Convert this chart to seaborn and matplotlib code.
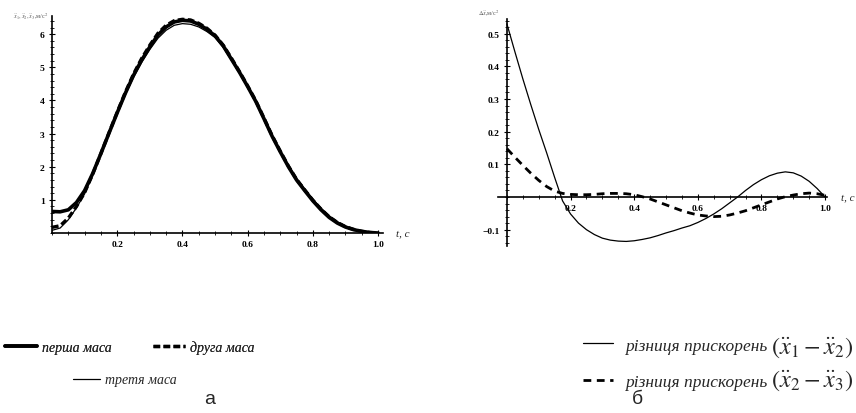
import numpy as np
import pandas as pd
import matplotlib
matplotlib.use("Agg")
import matplotlib.pyplot as plt
from matplotlib.ticker import MultipleLocator, FixedLocator
import seaborn as sns

# time grid, s
t = [0.0, 0.025, 0.05, 0.075, 0.1, 0.125, 0.15, 0.175, 0.2, 0.225,
     0.25, 0.275, 0.3, 0.325, 0.35, 0.375, 0.4, 0.425, 0.45, 0.475,
     0.5, 0.525, 0.55, 0.575, 0.6, 0.625, 0.65, 0.675, 0.7, 0.725,
     0.75, 0.775, 0.8, 0.825, 0.85, 0.875, 0.9, 0.925, 0.95, 0.975, 1.0]

# (a) accelerations of the three masses, m/s^2
mass1 = [0.65, 0.64, 0.7, 0.92, 1.28, 1.8, 2.4, 3.02, 3.63, 4.22,
         4.76, 5.22, 5.62, 5.98, 6.22, 6.37, 6.42, 6.4, 6.3, 6.15,
         5.95, 5.65, 5.25, 4.85, 4.42, 3.97, 3.45, 2.92, 2.45, 2.0,
         1.6, 1.28, 0.97, 0.7, 0.47, 0.3, 0.18, 0.1, 0.05, 0.015, 0.0]
mass2 = [0.17, 0.22, 0.45, 0.8, 1.22, 1.78, 2.4, 3.03, 3.65, 4.25,
         4.8, 5.27, 5.67, 6.03, 6.27, 6.41, 6.45, 6.43, 6.33, 6.18,
         5.97, 5.67, 5.28, 4.87, 4.44, 3.99, 3.47, 2.94, 2.47, 2.02,
         1.62, 1.3, 0.99, 0.72, 0.49, 0.32, 0.19, 0.11, 0.05, 0.015, 0.0]
mass3 = [0.08, 0.15, 0.4, 0.76, 1.18, 1.75, 2.37, 2.99, 3.6, 4.18,
         4.7, 5.15, 5.54, 5.88, 6.12, 6.27, 6.32, 6.3, 6.22, 6.08,
         5.9, 5.6, 5.22, 4.82, 4.4, 3.95, 3.44, 2.93, 2.47, 2.04,
         1.65, 1.33, 1.02, 0.75, 0.52, 0.34, 0.21, 0.12, 0.06, 0.02, 0.0]

# (b) acceleration differences, m/s^2
diff12 = [0.53, 0.445, 0.362, 0.283, 0.207, 0.135, 0.06, -0.012, -0.052, -0.08,
          -0.1, -0.115, -0.126, -0.132, -0.135, -0.136, -0.134, -0.13, -0.125, -0.118,
          -0.11, -0.103, -0.095, -0.088, -0.078, -0.066, -0.052, -0.036, -0.018, 0.0,
          0.02, 0.038, 0.053, 0.065, 0.073, 0.077, 0.074, 0.064, 0.048, 0.026, 0.0]
diff23 = [0.148, 0.122, 0.097, 0.073, 0.051, 0.032, 0.018, 0.011, 0.008, 0.007,
          0.007, 0.008, 0.01, 0.011, 0.011, 0.01, 0.007, 0.001, -0.006, -0.015,
          -0.024, -0.033, -0.042, -0.049, -0.055, -0.058, -0.06, -0.059, -0.055, -0.049,
          -0.042, -0.033, -0.024, -0.015, -0.006, 0.001, 0.006, 0.01, 0.012, 0.01, 0.005]

xticks_a = [0.2, 0.4, 0.6, 0.8, 1.0]
yticks_a = [1, 2, 3, 4, 5, 6]
xticks_b = [0.2, 0.4, 0.6, 0.8, 1.0]
yticks_b = [-0.1, 0.1, 0.2, 0.3, 0.4, 0.5]

labels_a = ['перша маса', 'друга маса', 'третя маса']
labels_b = ['різниця прискорень', 'різниця прискорень']
math_b = [r'$\left(\ddot{x}_1-\ddot{x}_2\right)$', r'$\left(\ddot{x}_2-\ddot{x}_3\right)$']

sns.set_style("white")
plt.rcParams['font.family'] = ['Liberation Serif', 'DejaVu Serif']
plt.rcParams['mathtext.fontset'] = 'stix'

fig = plt.figure(figsize=(8.56, 4.14), dpi=100)
ax1 = fig.add_axes([52/856, 1-234/414, 331/856, 217/414])
ax2 = fig.add_axes([498/856, 1-247/414, 329/856, 227/414])


def mathematica_axes(ax, xminor, yminor):
    # axes crossing at the origin, no box
    for s in ['top', 'right']:
        ax.spines[s].set_visible(False)
    ax.spines['left'].set_position(('data', 0))
    ax.spines['bottom'].set_position(('data', 0))
    for s in ['left', 'bottom']:
        ax.spines[s].set_linewidth(1.2)
        ax.spines[s].set_color('black')
    ax.xaxis.set_minor_locator(MultipleLocator(xminor))
    ax.yaxis.set_minor_locator(MultipleLocator(yminor))
    ax.tick_params(which='both', bottom=True, left=True, top=False, right=False)
    ax.tick_params(which='major', direction='inout', length=4.5, width=0.8,
                   labelsize=6.8, pad=3, colors='black')
    ax.tick_params(which='minor', direction='inout', length=2.5, width=0.6, colors='black')
    for lbl in ax.get_xticklabels() + ax.get_yticklabels():
        lbl.set_fontweight('bold')


df_a = pd.DataFrame({'t': t, 'm1': mass1, 'm2': mass2, 'm3': mass3})
sns.lineplot(data=df_a, x='t', y='m1', ax=ax1, color='black', lw=2.6)
sns.lineplot(data=df_a, x='t', y='m2', ax=ax1, color='black', lw=2.4, linestyle=(0, (2, 1)))
sns.lineplot(data=df_a, x='t', y='m3', ax=ax1, color='black', lw=0.9)
ax1.set_xlim(0, 1.015)
ax1.set_ylim(0, 6.55)
ax1.xaxis.set_major_locator(FixedLocator(xticks_a))
ax1.yaxis.set_major_locator(FixedLocator(yticks_a))
ax1.set_xlabel('')
ax1.set_ylabel('')
mathematica_axes(ax1, 0.05, 0.2)
ax1.text(1.055, 0, 't, c', fontsize=8, style='italic', va='center')
ax1.text(-0.12, 6.55, r'$\ddot{x}_1,\ddot{x}_2,\ddot{x}_3$,м/с$^2$', fontsize=4.5, va='center',
         color='#555555')

df_b = pd.DataFrame({'t': t, 'd12': diff12, 'd23': diff23})
sns.lineplot(data=df_b, x='t', y='d12', ax=ax2, color='black', lw=0.9)
sns.lineplot(data=df_b, x='t', y='d23', ax=ax2, color='black', lw=2.0, linestyle=(0, (2.8, 2.0)))
ax2.set_xlim(-0.028, 1.006)
ax2.set_ylim(-0.15, 0.545)
ax2.xaxis.set_major_locator(FixedLocator(xticks_b))
ax2.yaxis.set_major_locator(FixedLocator(yticks_b))
ax2.set_xlabel('')
ax2.set_ylabel('')
mathematica_axes(ax2, 0.05, 0.02)
ax2.text(1.05, 0, 't, c', fontsize=8, style='italic', va='center')
ax2.text(-0.09, 0.565, r'$\Delta\ddot{x}$,м/с$^2$', fontsize=4.5, va='center', color='#555555')

# legends below the panels
h = ax1.get_lines()
leg_font = {'family': 'Liberation Serif', 'style': 'italic', 'size': 10}
leg1 = fig.legend(h[:2], labels_a[:2], loc='center left', bbox_to_anchor=(5/856, 1-348/414),
                  ncol=2, frameon=False, borderpad=0, borderaxespad=0, handlelength=2.3,
                  handletextpad=0.36, columnspacing=3.0, prop=leg_font)
fig.add_artist(leg1)
fig.legend(h[2:3], labels_a[2:3], loc='center left', bbox_to_anchor=(73/856, 1-381/414),
           frameon=False, borderpad=0, borderaxespad=0, handlelength=1.95,
           handletextpad=0.36, prop=leg_font)

h2 = ax2.get_lines()
fig.legend(h2[:2], labels_b, loc='center left', bbox_to_anchor=(583/856, 1-364.5/414),
           frameon=False, borderpad=0, borderaxespad=0, handlelength=1.75,
           handletextpad=0.65, labelspacing=1.15,
           prop={'family': 'Liberation Serif', 'style': 'italic', 'size': 12.5})
for y_px, txt in zip([348, 381], math_b):
    fig.text(771/856, 1-y_px/414, txt, fontsize=17.5, ha='left', va='center')

fig.text(210/856, 1-400/414, 'а', fontsize=14, family='Liberation Sans', ha='center', va='center')
fig.text(637/856, 1-400/414, 'б', fontsize=14, family='Liberation Sans', ha='center', va='center')

fig.savefig('out.png', dpi=100)
